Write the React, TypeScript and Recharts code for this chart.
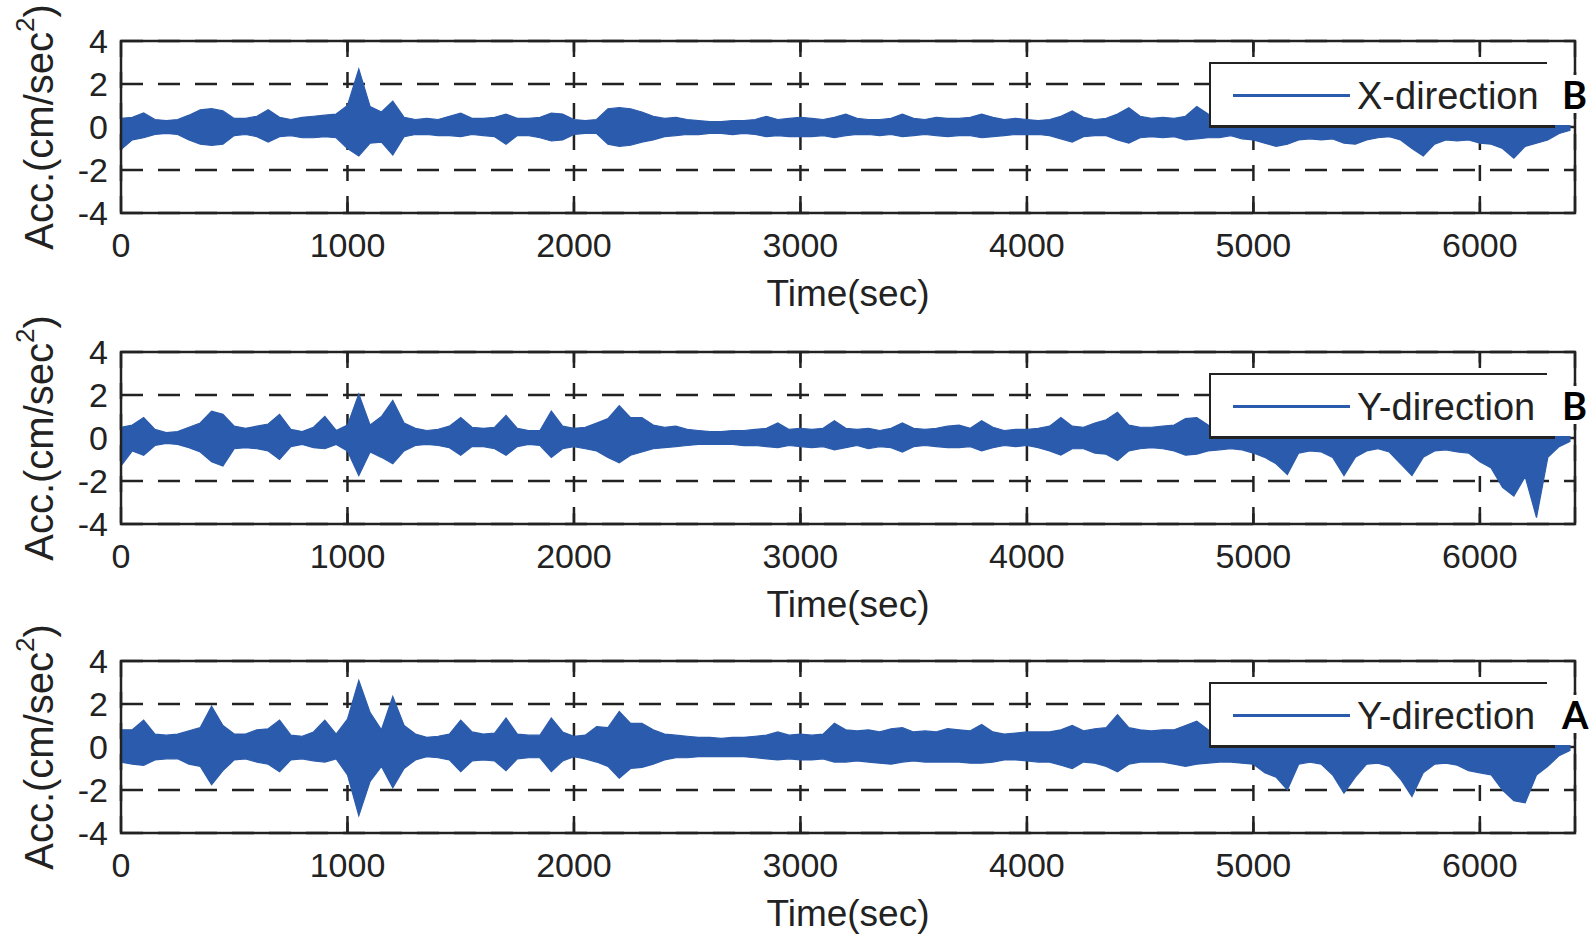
import React from 'react';
import {
  ComposedChart,
  Area,
  XAxis,
  YAxis,
  CartesianGrid,
  ReferenceArea,
  ReferenceLine,
  Legend,
} from 'recharts';

// sampling step of the envelope tables (sec)
const STEP = 50;

const X_TICKS = [0, 1000, 2000, 3000, 4000, 5000, 6000];
const Y_TICKS = [-4, -2, 0, 2, 4];

// upper / lower envelope of each record, read every 50 s from 0 to 6400 s
const xDirBHigh = [
  0.4, 0.45, 0.65, 0.35, 0.3, 0.35, 0.55, 0.8, 0.85, 0.75,
  0.4, 0.4, 0.5, 0.8, 0.45, 0.35, 0.45, 0.5, 0.55, 0.6,
  1.0, 2.7, 0.95, 0.7, 1.2, 0.45, 0.35, 0.4, 0.35, 0.5,
  0.65, 0.4, 0.4, 0.45, 0.6, 0.4, 0.4, 0.45, 0.65, 0.6,
  0.35, 0.3, 0.35, 0.85, 0.9, 0.85, 0.7, 0.5, 0.4, 0.45,
  0.35, 0.3, 0.25, 0.25, 0.3, 0.3, 0.35, 0.5, 0.35, 0.4,
  0.45, 0.4, 0.35, 0.45, 0.6, 0.4, 0.35, 0.35, 0.4, 0.6,
  0.4, 0.35, 0.45, 0.4, 0.4, 0.45, 0.6, 0.45, 0.35, 0.4,
  0.35, 0.3, 0.35, 0.5, 0.75, 0.45, 0.35, 0.4, 0.6, 0.9,
  0.5, 0.4, 0.45, 0.4, 0.5, 0.95, 0.6, 0.5, 0.4, 0.4,
  0.35, 0.3, 0.3, 0.3, 0.3, 0.25, 0.25, 0.3, 0.3, 0.3,
  0.25, 0.25, 0.25, 0.3, 0.3, 0.3, 0.25, 0.25, 0.25, 0.25,
  0.3, 0.3, 0.3, 0.3, 0.3, 0.25, 0.2, 0.15, 0.1,
];
const xDirBLow = [
  -1.05, -0.6, -0.5, -0.35, -0.3, -0.35, -0.6, -0.8, -0.85, -0.8,
  -0.4, -0.35, -0.45, -0.7, -0.45, -0.4, -0.5, -0.5, -0.45, -0.5,
  -1.0, -1.35, -0.75, -0.7, -1.3, -0.45, -0.35, -0.35, -0.4, -0.4,
  -0.45, -0.35, -0.4, -0.45, -0.8, -0.4, -0.4, -0.5, -0.65, -0.6,
  -0.35, -0.3, -0.3, -0.8, -0.9, -0.85, -0.7, -0.6, -0.45, -0.4,
  -0.35, -0.35, -0.3, -0.3, -0.35, -0.3, -0.35, -0.45, -0.4, -0.45,
  -0.45, -0.45, -0.4, -0.5, -0.4, -0.35, -0.35, -0.4, -0.35, -0.45,
  -0.4, -0.35, -0.4, -0.45, -0.4, -0.4, -0.5, -0.45, -0.4, -0.35,
  -0.35, -0.35, -0.4, -0.55, -0.7, -0.45, -0.4, -0.4, -0.6, -0.75,
  -0.5, -0.45, -0.5, -0.45, -0.6, -0.55, -0.5, -0.5, -0.4, -0.55,
  -0.6, -0.75, -0.9, -0.8, -0.6, -0.55, -0.6, -0.55, -0.75, -0.8,
  -0.6, -0.5, -0.45, -0.6, -1.0, -1.35, -0.8, -0.6, -0.65, -0.6,
  -0.75, -0.8, -1.0, -1.45, -0.9, -0.75, -0.6, -0.3, -0.15,
];

const yDirBHigh = [
  0.5, 0.6, 0.95, 0.4, 0.25, 0.3, 0.5, 0.7, 1.25, 1.1,
  0.55, 0.45, 0.55, 0.65, 1.1, 0.4, 0.3, 0.5, 1.0, 0.35,
  0.6, 2.05, 0.6, 1.0, 1.75, 0.7, 0.45, 0.35, 0.4, 0.55,
  0.95, 0.5, 0.45, 0.5, 1.05, 0.45, 0.35, 0.35, 1.25, 0.55,
  0.45, 0.5, 0.7, 0.9, 1.5, 0.95, 0.95, 0.6, 0.5, 0.55,
  0.4, 0.35, 0.3, 0.3, 0.35, 0.35, 0.4, 0.45, 0.7, 0.4,
  0.45, 0.4, 0.45, 0.8, 0.45, 0.4, 0.45, 0.35, 0.45, 0.7,
  0.45, 0.4, 0.45, 0.55, 0.6, 0.45, 0.8, 0.5, 0.35, 0.4,
  0.4, 0.45, 0.55, 0.95, 0.55, 0.5, 0.7, 0.85, 1.2, 0.6,
  0.5, 0.5, 0.55, 0.6, 0.9, 0.95, 0.6, 0.5, 0.4, 0.35,
  0.35, 0.3, 0.3, 0.3, 0.3, 0.3, 0.3, 0.3, 0.3, 0.3,
  0.25, 0.25, 0.25, 0.3, 0.3, 0.3, 0.25, 0.25, 0.25, 0.3,
  0.3, 0.3, 0.3, 0.3, 0.3, 0.25, 0.2, 0.15, 0.1,
];
const yDirBLow = [
  -1.3, -0.6, -0.8, -0.35, -0.25, -0.3, -0.45, -0.65, -1.1, -1.3,
  -0.5, -0.45, -0.5, -0.6, -1.0, -0.4, -0.3, -0.45, -0.5, -0.3,
  -0.6, -1.75, -0.65, -0.9, -1.2, -0.6, -0.35, -0.3, -0.35, -0.45,
  -0.8, -0.4, -0.4, -0.5, -0.8, -0.4, -0.3, -0.35, -0.9, -0.5,
  -0.4, -0.5, -0.6, -0.9, -1.15, -0.8, -0.65, -0.5, -0.45, -0.4,
  -0.35, -0.3, -0.3, -0.3, -0.3, -0.35, -0.35, -0.4, -0.45, -0.35,
  -0.4, -0.45, -0.4, -0.55, -0.45, -0.35, -0.5, -0.4, -0.45, -0.65,
  -0.4, -0.35, -0.4, -0.45, -0.45, -0.4, -0.6, -0.45, -0.35, -0.4,
  -0.35, -0.45, -0.6, -0.8, -0.5, -0.5, -0.7, -0.75, -1.05, -0.6,
  -0.5, -0.45, -0.5, -0.6, -0.8, -0.75, -0.6, -0.55, -0.5, -0.55,
  -0.7, -0.9, -1.2, -1.7, -0.7, -0.6, -0.65, -0.9, -1.75, -0.9,
  -0.6, -0.5, -0.65, -1.2, -1.75, -0.9, -0.6, -0.55, -0.65, -0.7,
  -1.1, -1.4, -2.3, -2.7, -1.8, -3.7, -0.9, -0.4, -0.15,
];

const yDirAHigh = [
  0.8, 0.8, 1.25, 0.6, 0.55, 0.6, 0.75, 0.9, 1.9, 1.0,
  0.6, 0.6, 0.8, 0.85, 1.25, 0.55, 0.5, 0.7, 1.25, 0.6,
  1.3, 3.1, 1.6, 0.8, 2.35, 1.0, 0.6, 0.45, 0.5, 0.6,
  1.25, 0.7, 0.6, 0.65, 1.35, 0.6, 0.55, 0.55, 1.35, 0.7,
  0.5, 0.55, 0.95, 0.9, 1.65, 1.1, 1.1, 0.8, 0.6, 0.55,
  0.5, 0.45, 0.45, 0.4, 0.45, 0.45, 0.5, 0.55, 0.7, 0.55,
  0.6, 0.55, 0.6, 1.1, 0.8, 0.75, 0.8, 0.7, 0.85, 0.9,
  0.7, 0.75, 0.7, 0.85, 0.8, 0.75, 1.05, 0.7, 0.6, 0.65,
  0.7, 0.7, 0.7, 0.8, 1.0, 0.75, 0.85, 0.9, 1.5, 0.9,
  0.8, 0.75, 0.8, 0.8, 1.0, 1.2, 0.8, 0.6, 0.5, 0.45,
  0.4, 0.4, 0.35, 0.35, 0.35, 0.3, 0.35, 0.35, 0.35, 0.35,
  0.3, 0.3, 0.3, 0.35, 0.35, 0.35, 0.3, 0.3, 0.3, 0.3,
  0.35, 0.35, 0.35, 0.35, 0.35, 0.3, 0.25, 0.15, 0.1,
];
const yDirALow = [
  -0.7, -0.8, -0.85, -0.6, -0.55, -0.55, -0.8, -0.9, -1.75, -1.1,
  -0.6, -0.55, -0.7, -0.8, -1.15, -0.6, -0.55, -0.65, -0.7, -0.55,
  -1.3, -3.2, -1.6, -0.9, -1.9, -1.0, -0.6, -0.45, -0.5, -0.6,
  -1.15, -0.65, -0.6, -0.65, -1.1, -0.55, -0.5, -0.5, -1.15, -0.65,
  -0.45, -0.55, -0.7, -0.9, -1.45, -1.0, -0.95, -0.8, -0.6, -0.5,
  -0.5, -0.45, -0.45, -0.45, -0.45, -0.45, -0.5, -0.55, -0.6, -0.55,
  -0.6, -0.6, -0.55, -0.7, -0.7, -0.65, -0.7, -0.75, -0.8, -0.7,
  -0.65, -0.7, -0.7, -0.7, -0.7, -0.75, -0.75, -0.7, -0.6, -0.6,
  -0.65, -0.7, -0.7, -0.85, -1.0, -0.7, -0.75, -0.9, -1.15, -0.8,
  -0.7, -0.7, -0.7, -0.8, -0.9, -0.8, -0.75, -0.7, -0.7, -0.75,
  -0.8, -1.2, -1.4, -2.0, -0.8, -0.7, -0.8, -1.3, -2.15, -1.4,
  -0.8, -0.75, -0.9, -1.5, -2.3, -1.2, -0.8, -0.75, -0.85, -1.1,
  -1.2, -1.3, -2.0, -2.5, -2.6, -1.3, -0.9, -0.4, -0.15,
];

const BLUE = '#2b5bac';
const INK = '#222';
const FONT = '"Liberation Sans", Arial, sans-serif';

const CHART_W = 1595;
const CHART_H = 322;
const PLOT_TOP = 40;
const PLOT_H = 172;
const AXIS_W = 121;
const X_MAX = 6420;
const TICK_LEN = 0.5; // inward tick length in y units

const toRows = (hi: number[], lo: number[]) =>
  hi.map((h, i) => ({ t: i * STEP, band: [lo[i], h] }));

const YTitle = (props: any) => {
  const vb = props.viewBox || { y: PLOT_TOP, height: PLOT_H };
  const cx = 39;
  const cy = vb.y + vb.height / 2;
  return (
    <text
      x={cx}
      y={cy}
      transform={`rotate(-90, ${cx}, ${cy})`}
      textAnchor="middle"
      dominantBaseline="central"
      fontSize={40}
      fontFamily={FONT}
      fill={INK}
    >
      Acc.(cm/sec
      <tspan dy={-14} fontSize={26}>2</tspan>
      <tspan dy={14}>)</tspan>
    </text>
  );
};

const TimeTitle = (props: any) => {
  const vb = props.viewBox || { x: AXIS_W, y: PLOT_TOP + PLOT_H, width: 1454 };
  return (
    <text
      x={vb.x + vb.width / 2}
      y={vb.y + 80}
      textAnchor="middle"
      dominantBaseline="central"
      fontSize={37}
      fontFamily={FONT}
      fill={INK}
    >
      Time(sec)
    </text>
  );
};

const LegendBox = ({ name, tag }: { name: string; tag: string }) => (
  <div style={{ position: 'relative', width: 390, height: 66, fontFamily: FONT }}>
    <div
      style={{
        position: 'absolute',
        left: 0,
        top: 0,
        width: 338,
        height: 63,
        background: '#fff',
        borderTop: `2px solid ${INK}`,
        borderLeft: `2px solid ${INK}`,
        boxSizing: 'border-box',
      }}
    />
    <div style={{ position: 'absolute', left: 338, top: 2, width: 26, height: 61, background: '#fff' }} />
    <div style={{ position: 'absolute', left: 0, top: 63, width: 346, height: 3, background: INK }} />
    <div style={{ position: 'absolute', left: 24, top: 32, width: 117, height: 3, background: BLUE }} />
    <div
      style={{
        position: 'absolute',
        left: 148,
        top: 34,
        transform: 'translateY(-50%)',
        fontSize: 38,
        lineHeight: 1,
        color: INK,
        whiteSpace: 'nowrap',
      }}
    >
      {name}
    </div>
    <div
      style={{
        position: 'absolute',
        left: 353,
        top: 32,
        transform: 'translateY(-50%)',
        fontSize: 38,
        lineHeight: 1,
        fontWeight: 700,
        fontFamily: 'Lato, "Open Sans", sans-serif',
        color: '#000',
        background: '#fff',
      }}
    >
      {tag}
    </div>
  </div>
);

interface PanelProps {
  top: number;
  name: string;
  tag: string;
  hi: number[];
  lo: number[];
}

const Panel: React.FC<PanelProps> = ({ top, name, tag, hi, lo }) => {
  const data = toRows(hi, lo);
  return (
    <div style={{ position: 'absolute', left: 0, top }}>
      <ComposedChart
        width={CHART_W}
        height={CHART_H}
        data={data}
        margin={{ top: PLOT_TOP, right: 20, left: 0, bottom: CHART_H - PLOT_TOP - PLOT_H - 95 }}
      >
        <CartesianGrid
          vertical={false}
          stroke={INK}
          strokeWidth={2.5}
          strokeDasharray="22 15"
        />
        <CartesianGrid
          horizontal={false}
          stroke={INK}
          strokeWidth={2.5}
          strokeDasharray="16 15"
        />
        <XAxis
          dataKey="t"
          type="number"
          domain={[0, X_MAX]}
          ticks={X_TICKS}
          interval={0}
          allowDataOverflow
          axisLine={false}
          tickLine={false}
          tickSize={6}
          tickMargin={14}
          height={95}
          tick={{ fill: INK, fontSize: 34, fontFamily: FONT }}
          label={<TimeTitle />}
        />
        <YAxis
          type="number"
          domain={[-4, 4]}
          ticks={Y_TICKS}
          interval={0}
          allowDataOverflow
          axisLine={false}
          tickLine={false}
          width={AXIS_W}
          tickSize={6}
          tickMargin={7}
          tick={{ fill: INK, fontSize: 34, fontFamily: FONT }}
          label={<YTitle />}
        />
        <Area
          type="linear"
          dataKey="band"
          stroke={BLUE}
          strokeWidth={1.2}
          fill={BLUE}
          fillOpacity={1}
          dot={false}
          activeDot={false}
          isAnimationActive={false}
        />
        {X_TICKS.slice(1).map((x) => (
          <ReferenceLine
            key={`tb-${x}`}
            segment={[{ x, y: -4 }, { x, y: -4 + TICK_LEN }]}
            stroke={INK}
            strokeWidth={2.5}
          />
        ))}
        {X_TICKS.slice(1).map((x) => (
          <ReferenceLine
            key={`tt-${x}`}
            segment={[{ x, y: 4 }, { x, y: 4 - TICK_LEN }]}
            stroke={INK}
            strokeWidth={2.5}
          />
        ))}
        <ReferenceArea
          x1={0}
          x2={X_MAX}
          y1={-4}
          y2={4}
          fill="none"
          fillOpacity={0}
          stroke={INK}
          strokeWidth={2.5}
          ifOverflow="visible"
        />
        <Legend
          layout="vertical"
          align="center"
          verticalAlign="middle"
          wrapperStyle={{
            position: 'absolute',
            left: 1209,
            top: PLOT_TOP + 21,
            width: 390,
            height: 66,
            margin: 0,
            padding: 0,
          }}
          content={() => <LegendBox name={name} tag={tag} />}
        />
      </ComposedChart>
    </div>
  );
};

const App: React.FC = () => (
  <div
    style={{
      position: 'absolute',
      left: 0,
      top: 0,
      width: CHART_W,
      height: 944,
      background: '#fff',
      overflow: 'hidden',
    }}
  >
    <Panel top={1} name="X-direction" tag="B" hi={xDirBHigh} lo={xDirBLow} />
    <Panel top={312} name="Y-direction" tag="B" hi={yDirBHigh} lo={yDirBLow} />
    <Panel top={621} name="Y-direction" tag="A" hi={yDirAHigh} lo={yDirALow} />
  </div>
);

export default App;
